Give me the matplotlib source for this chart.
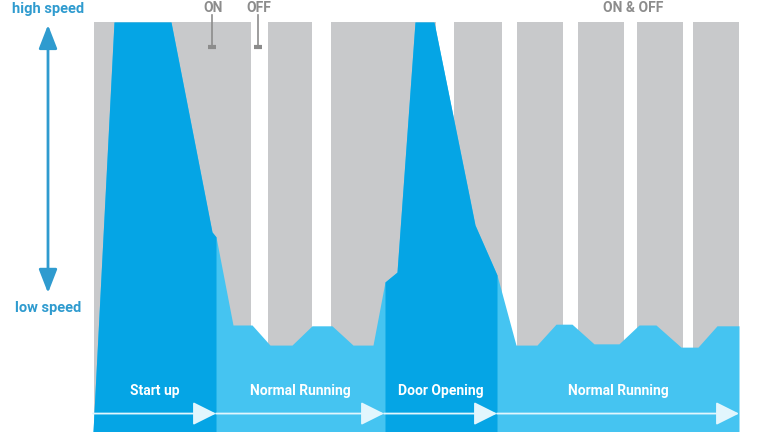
import matplotlib

matplotlib.use("Agg")
import matplotlib.pyplot as plt  # noqa: E402
import numpy as np  # noqa: E402

# colours
C_DARK = "#05a5e5"    # start-up / door opening
C_LIGHT = "#45c4f1"   # normal running
C_GREY = "#c8c9cb"    # on/off bars
C_TEXT = "#2f9bcf"
C_NOTE = "#8c8c8c"
C_FLOW = "#e2f6fd"

# speed profile (time in arbitrary units, speed in % of high speed)
time = [9.3, 11.4, 17.1, 21.2, 21.6, 23.3, 25.2, 27.0, 29.2, 31.2, 33.2, 35.3,
        37.3, 38.5, 39.7, 41.5, 43.4, 47.0, 47.5, 49.7, 51.6, 53.7, 55.6, 57.2,
        59.4, 61.9, 63.9, 65.6, 68.1, 69.8, 71.7, 73.9]
speed = [0, 100, 100, 48.8, 47.6, 26.1, 26.1, 21.2, 21.2, 25.9, 25.9, 21.2,
         21.2, 36.6, 39.0, 100, 100, 56.6, 50.5, 38.3, 21.2, 21.2, 26.3, 26.3,
         21.5, 21.5, 26.1, 26.1, 20.7, 20.7, 25.9, 25.9]

# grey ON/OFF bars (start, end)
bar_start = [9.4, 26.8, 33.1, 45.4, 51.7, 57.8, 63.7, 69.3]
bar_end = [25.1, 31.2, 43.6, 50.2, 56.3, 62.4, 68.3, 73.9]

# phases along the bottom
phase_edges = [9.3, 21.6, 38.4, 49.7, 73.9]
phase_labels = ["Start up", "Normal Running", "Door Opening", "Normal Running"]
dark_phases = [(9.3, 21.6), (38.5, 49.7)]

plt.rcParams["font.family"] = ["Roboto", "DejaVu Sans"]

fig = plt.figure(figsize=(7.68, 4.32), dpi=100)
ax = fig.add_axes([0, 0, 1, 1])
ax.set_xlim(0, 76.8)
ax.set_ylim(0, 105.37)
ax.axis("off")

t = np.array(time)
s = np.array(speed)

ax.bar(bar_start, 100, width=np.array(bar_end) - np.array(bar_start),
       align="edge", color=C_GREY, linewidth=0)
ax.fill_between(t, s, 0, color=C_LIGHT, linewidth=0)
for lo, hi in dark_phases:
    ax.fill_between(t, s, 0, where=(t >= lo) & (t <= hi), color=C_DARK, linewidth=0)

# phase arrows + labels
for a, b, lab in zip(phase_edges[:-1], phase_edges[1:], phase_labels):
    ax.annotate("", xy=(b, 4.5), xytext=(a, 4.5),
                arrowprops=dict(arrowstyle="-|>,head_length=0.9,head_width=0.45",
                                color=C_FLOW, lw=1.3, shrinkA=0, shrinkB=0,
                                mutation_scale=16))
    ax.text((a + b) / 2, 9.9, lab, color="white", fontsize=10, fontweight="bold",
            ha="center", va="center")

# speed axis
ax.annotate("", xy=(4.8, 99.3), xytext=(4.8, 33.9),
            arrowprops=dict(arrowstyle="<|-|>,head_length=0.9,head_width=0.35",
                            color=C_TEXT, lw=2, shrinkA=0, shrinkB=0, mutation_scale=16))
ax.text(4.8, 102.2, "high speed", color=C_TEXT, fontsize=10.5, fontweight="bold",
        ha="center", va="baseline")
ax.text(4.8, 30.2, "low speed", color=C_TEXT, fontsize=10.5, fontweight="bold",
        ha="center", va="center")

# ON / OFF notes
for x, lab in [(21.3, "ON"), (25.9, "OFF")]:
    ax.text(x, 102.4, lab, color=C_NOTE, fontsize=10, fontweight="bold",
            ha="center", va="baseline")
    ax.plot([x - 0.1, x - 0.1], [101.6, 93.9], color=C_NOTE, lw=1.2)
    ax.plot(x - 0.1, 93.9, marker="_", ms=6, mew=3, color=C_NOTE)
ax.text(63.3, 102.4, "ON & OFF", color=C_NOTE, fontsize=10, fontweight="bold",
        ha="center", va="baseline")

fig.savefig("out.png", dpi=100)
